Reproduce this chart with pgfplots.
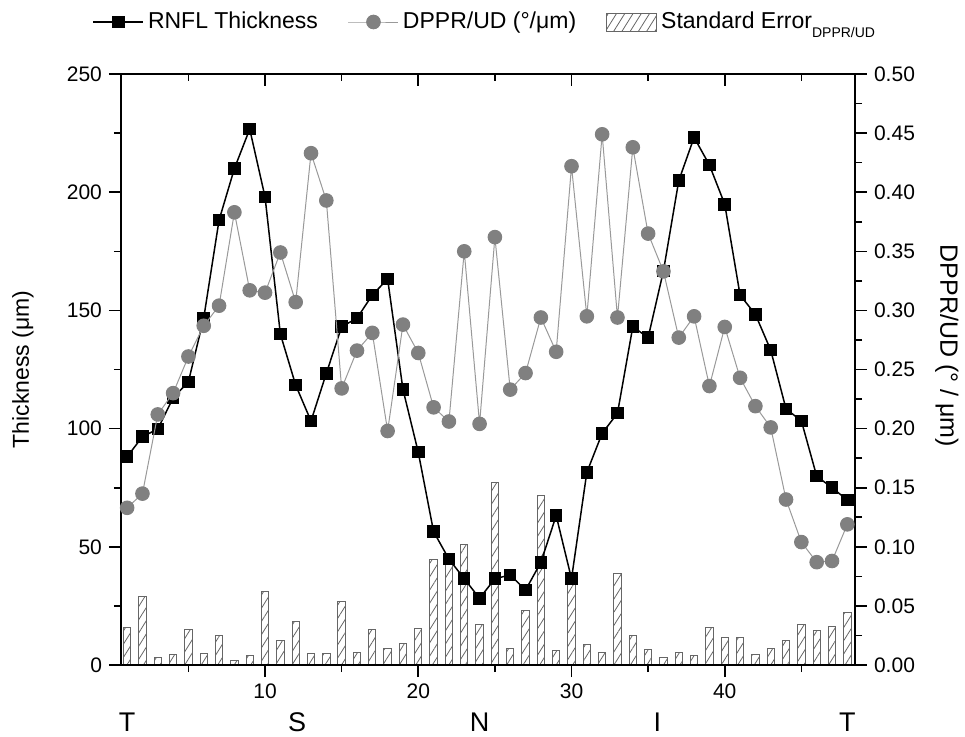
\documentclass[border=0pt]{standalone}
\usepackage{fontspec}
\setmainfont{Liberation Sans}
\usepackage{pgfplots}
\usepackage{pgfplotstable}
\pgfplotsset{compat=1.18}
\usetikzlibrary{patterns.meta}
\definecolor{cfill}{gray}{0.5}
\definecolor{cline}{gray}{0.6}
\definecolor{bardraw}{gray}{0.4}

\pgfplotstableread{
x thick dppr se
1 88.1 0.133 0.032
2 96.6 0.145 0.058
3 99.8 0.212 0.006
4 113.0 0.230 0.009
5 119.8 0.261 0.030
6 146.8 0.287 0.010
7 188.2 0.304 0.025
8 210.0 0.383 0.004
9 226.7 0.317 0.008
10 198.0 0.315 0.062
11 140.0 0.349 0.021
12 118.4 0.307 0.037
13 103.2 0.433 0.010
14 123.4 0.393 0.010
15 143.1 0.234 0.054
16 146.7 0.266 0.011
17 156.5 0.281 0.030
18 163.3 0.198 0.014
19 116.6 0.288 0.018
20 90.0 0.264 0.031
21 56.4 0.218 0.089
22 44.8 0.206 0.088
23 36.5 0.350 0.102
24 28.2 0.204 0.034
25 36.5 0.362 0.154
26 38.1 0.233 0.014
27 31.7 0.247 0.046
28 43.4 0.294 0.143
29 63.2 0.265 0.012
30 36.5 0.422 0.075
31 81.5 0.295 0.017
32 98.0 0.449 0.011
33 106.5 0.294 0.077
34 143.1 0.438 0.025
35 138.5 0.365 0.013
36 166.7 0.333 0.006
37 204.9 0.277 0.011
38 223.2 0.295 0.008
39 211.5 0.236 0.032
40 194.9 0.286 0.023
41 156.5 0.243 0.023
42 148.3 0.219 0.009
43 133.2 0.201 0.014
44 108.3 0.140 0.021
45 103.3 0.104 0.034
46 79.9 0.087 0.029
47 75.0 0.088 0.033
48 69.8 0.119 0.044
}\data

\tikzset{
  barsty/.style={draw=bardraw, line width=0.5pt,
    pattern={Lines[angle=58,distance=3.5pt,line width=0.4pt]}, pattern color=bardraw},
  sqsty/.style={black, line width=0.75pt, mark=square*, mark size=2.75pt},
  cisty/.style={cline, line width=0.5pt, mark=*, mark size=3.4pt, mark options={fill=cfill, draw=cfill}},
  tsn/.style={font=\fontsize{13.5}{15}\selectfont, anchor=base, inner sep=0pt, yshift=-33pt},
}
\pgfplotsset{
  barleg/.style={legend image code/.code={\draw[##1] (0pt,-4.5pt) rectangle (25pt,4.5pt);}},
  lineleg/.style={legend image code/.code={\draw[mark repeat=2,mark phase=2,##1] plot coordinates {(0pt,0pt)(12.5pt,0pt)(25pt,0pt)};}},
  base/.style={
    width=367pt, height=295.5pt, scale only axis,
    at={(0,0)}, anchor=south west,
    xmin=0.6, xmax=48.5,
    axis line style={-, line width=1pt},
    every outer x axis line/.append style={-},
    every outer y axis line/.append style={-},
    tick style={line width=0.8pt, black},
    major tick length=6pt, minor tick length=3.6pt,
    ticklabel style={font=\fontsize{10.5}{12}\selectfont},
    label style={font=\fontsize{11.5}{13}\selectfont},
    /pgf/number format/assume math mode=true,
    xtick={10,20,30,40}, minor xtick={5,15,25,35,45},
  },
}

\begin{document}
\begin{tikzpicture}
\useasboundingbox (-60.5pt,-35.5pt) rectangle (422pt,332.5pt);

% right axis: bars
\begin{axis}[base,
  hide x axis,
  axis y line*=right,
  tick align=outside,
  ymin=0, ymax=0.5,
  ytick={0,0.05,0.10,0.15,0.20,0.25,0.30,0.35,0.40,0.45,0.50},
  minor y tick num=1,
  yticklabel style={/pgf/number format/.cd, fixed, fixed zerofill, precision=2},
  ylabel={DPPR/UD (° / μm)},
  ylabel style={at={(axis description cs:1.125,0.54)}, anchor=center, rotate=180, font=\fontsize{12.5}{14}\selectfont},
]
\addplot[ybar, bar width=0.48, barsty] table[x=x,y=se]{\data};
\end{axis}

% left axis: thickness
\begin{axis}[base,
  axis x line*=bottom,
  axis y line*=left,
  tick align=outside,
  ymin=0, ymax=250,
  ytick={0,50,100,150,200,250},
  minor y tick num=1,
  ylabel={Thickness (μm)},
  ylabel style={at={(axis description cs:-0.1335,0.5)}, anchor=center},
  clip=false,
]
\addplot[sqsty] table[x=x,y=thick]{\data};
\node[tsn] at (axis cs:1,0) {T};
\node[tsn] at (axis cs:12.1,0) {S};
\node[tsn] at (axis cs:24,0) {N};
\node[tsn] at (axis cs:35.6,0) {I};
\node[tsn] at (axis cs:48,0) {T};
\end{axis}

% top line, circles and legend
\begin{axis}[base,
  hide y axis,
  axis x line*=top,
  tick align=inside,
  xticklabels={},
  ymin=0, ymax=0.5,
  legend style={at={(0.497,1.088)}, anchor=center, draw=none, fill=none,
    legend columns=3, font=\fontsize{11.5}{13}\selectfont,
    /tikz/every even column/.append style={column sep=13pt}},
  lineleg,
]
\addlegendimage{sqsty}
\addlegendentry{RNFL Thickness}
\addplot[cisty] table[x=x,y=dppr]{\data};
\addlegendentry{DPPR/UD (°/μm)}
\addlegendimage{barsty, barleg}
\addlegendentry{Standard Error\raisebox{-0.7ex}{\fontsize{7}{8}\selectfont DPPR/UD}}
\end{axis}
\end{tikzpicture}
\end{document}
